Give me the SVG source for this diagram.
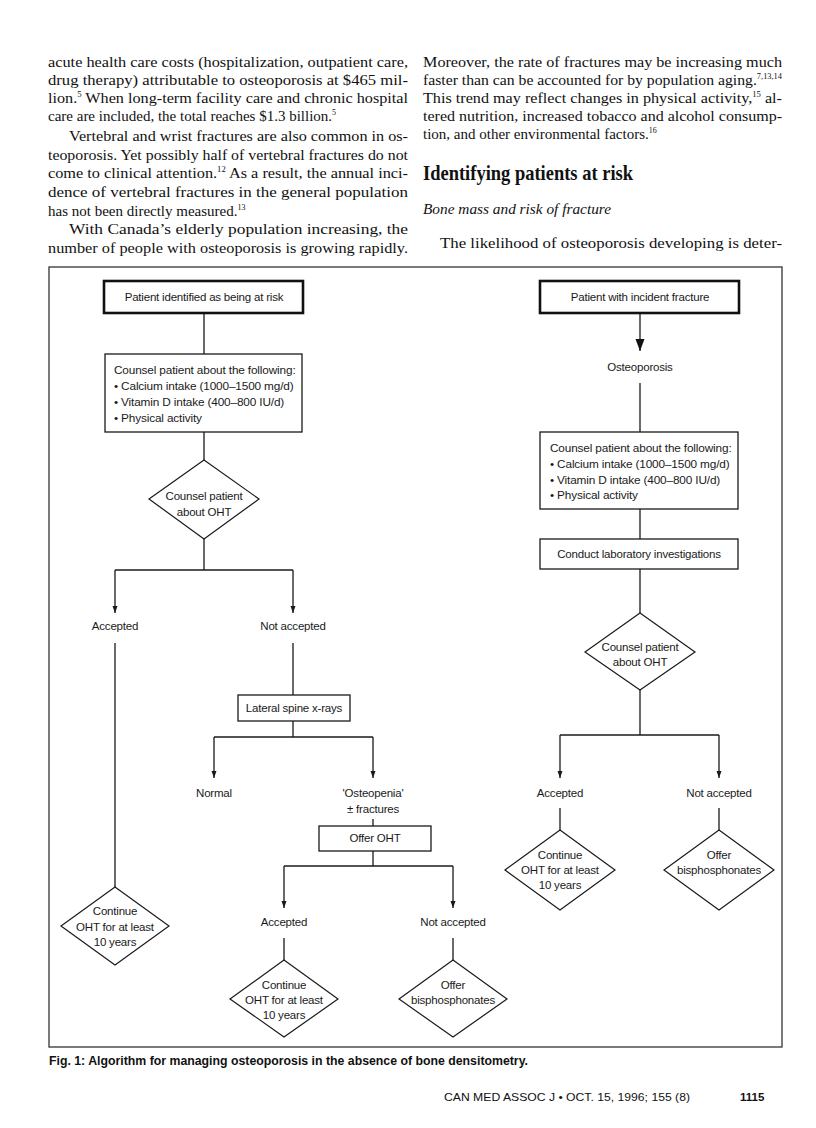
<svg xmlns="http://www.w3.org/2000/svg" width="816" height="1128" viewBox="0 0 816 1128">
<defs>
<style>
.body{font-family:"Liberation Serif",serif;font-size:15px;fill:#111}
.sup{font-size:8px}
.t{font-family:"Liberation Sans",Arial,sans-serif;font-size:11.5px;fill:#1a1a1a;text-anchor:middle;letter-spacing:-0.2px}
.tl{font-family:"Liberation Sans",Arial,sans-serif;font-size:11.8px;fill:#1a1a1a;letter-spacing:-0.15px}
.box{fill:#fff;stroke:#1a1a1a;stroke-width:1.3}
.tbox{fill:#fff;stroke:#111;stroke-width:2.6}
.dia{fill:#fff;stroke:#1a1a1a;stroke-width:1.2}
.c{fill:none;stroke:#1a1a1a;stroke-width:1.3}
.ca{fill:none;stroke:#1a1a1a;stroke-width:1.3;marker-end:url(#arr)}
</style>
<marker id="arr" markerUnits="userSpaceOnUse" markerWidth="8" markerHeight="6" refX="7" refY="3" orient="auto"><path d="M0,0.5 L7,3 L0,5.5 z" fill="#1a1a1a"/></marker>
<marker id="arrBig" markerUnits="userSpaceOnUse" markerWidth="13" markerHeight="10" refX="12" refY="5" orient="auto"><path d="M0,0.5 L12,5 L0,9.5 z" fill="#111"/></marker>
</defs>
<rect width="816" height="1128" fill="#fff"/>

<g id="page-text">
<text class="body" x="48" y="67" textLength="360" lengthAdjust="spacingAndGlyphs">acute health care costs (hospitalization, outpatient care,</text>
<text class="body" x="48" y="85" textLength="360" lengthAdjust="spacingAndGlyphs">drug therapy) attributable to osteoporosis at $465 mil-</text>
<text class="body" x="48" y="103" textLength="360" lengthAdjust="spacingAndGlyphs">lion.<tspan class="sup" dy="-6">5</tspan><tspan dy="6"> When long-term facility care and chronic hospital</tspan></text>
<text class="body" x="48" y="121">care are included, the total reaches $1.3 billion.<tspan class="sup" dy="-6">5</tspan></text>
<text class="body" x="69" y="141" textLength="339" lengthAdjust="spacingAndGlyphs">Vertebral and wrist fractures are also common in os-</text>
<text class="body" x="48" y="160" textLength="360" lengthAdjust="spacingAndGlyphs">teoporosis. Yet possibly half of vertebral fractures do not</text>
<text class="body" x="48" y="178" textLength="360" lengthAdjust="spacingAndGlyphs">come to clinical attention.<tspan class="sup" dy="-6">12</tspan><tspan dy="6"> As a result, the annual inci-</tspan></text>
<text class="body" x="48" y="197" textLength="360" lengthAdjust="spacingAndGlyphs">dence of vertebral fractures in the general population</text>
<text class="body" x="48" y="216">has not been directly measured.<tspan class="sup" dy="-6">13</tspan></text>
<text class="body" x="69" y="234" textLength="339" lengthAdjust="spacingAndGlyphs">With Canada’s elderly population increasing, the</text>
<text class="body" x="48" y="253" textLength="360" lengthAdjust="spacingAndGlyphs">number of people with osteoporosis is growing rapidly.</text>

<text class="body" x="423" y="67" textLength="359" lengthAdjust="spacingAndGlyphs">Moreover, the rate of fractures may be increasing much</text>
<text class="body" x="423" y="85" textLength="359" lengthAdjust="spacingAndGlyphs">faster than can be accounted for by population aging.<tspan class="sup" dy="-6">7,13,14</tspan></text>
<text class="body" x="423" y="103" textLength="359" lengthAdjust="spacingAndGlyphs">This trend may reflect changes in physical activity,<tspan class="sup" dy="-6">15</tspan><tspan dy="6"> al-</tspan></text>
<text class="body" x="423" y="121" textLength="359" lengthAdjust="spacingAndGlyphs">tered nutrition, increased tobacco and alcohol consump-</text>
<text class="body" x="423" y="139">tion, and other environmental factors.<tspan class="sup" dy="-6">16</tspan></text>
<text x="423" y="180" font-family="Liberation Serif, serif" font-weight="bold" font-size="21" fill="#111" textLength="210" lengthAdjust="spacingAndGlyphs">Identifying patients at risk</text>
<text x="423" y="214" font-family="Liberation Serif, serif" font-style="italic" font-size="15.5" fill="#111" textLength="188" lengthAdjust="spacingAndGlyphs">Bone mass and risk of fracture</text>
<text class="body" x="440" y="248" textLength="342" lengthAdjust="spacingAndGlyphs">The likelihood of osteoporosis developing is deter-</text>
</g>

<g id="frame"><rect x="49" y="267" width="733" height="780" fill="none" stroke="#333" stroke-width="1.3"/></g>

<g id="connectors">
<line class="c" x1="204" y1="313" x2="204" y2="354"/>
<line class="c" x1="204" y1="432" x2="204" y2="460"/>
<line class="c" x1="204" y1="539" x2="204" y2="570"/>
<line class="c" x1="115" y1="570" x2="293" y2="570"/>
<line class="ca" x1="115" y1="570" x2="115" y2="613"/>
<line class="ca" x1="293" y1="570" x2="293" y2="613"/>
<line class="c" x1="115" y1="643" x2="115" y2="887"/>
<line class="c" x1="293" y1="643" x2="293" y2="695"/>
<line class="c" x1="293" y1="721" x2="293" y2="737"/>
<line class="c" x1="214" y1="737" x2="373" y2="737"/>
<line class="ca" x1="214" y1="737" x2="214" y2="778"/>
<line class="ca" x1="373" y1="737" x2="373" y2="778"/>
<line class="c" x1="373" y1="819" x2="373" y2="826"/>
<line class="c" x1="373" y1="851" x2="373" y2="866"/>
<line class="c" x1="284" y1="866" x2="453" y2="866"/>
<line class="ca" x1="284" y1="866" x2="284" y2="908"/>
<line class="ca" x1="453" y1="866" x2="453" y2="908"/>
<line class="c" x1="284" y1="938" x2="284" y2="960"/>
<line class="c" x1="453" y1="938" x2="453" y2="960"/>
<line class="c" x1="640" y1="313" x2="640" y2="351" style="marker-end:url(#arrBig)"/>
<line class="c" x1="640" y1="383" x2="640" y2="432"/>
<line class="c" x1="640" y1="509" x2="640" y2="539"/>
<line class="c" x1="640" y1="569" x2="640" y2="613"/>
<line class="c" x1="640" y1="690" x2="640" y2="735"/>
<line class="c" x1="560" y1="735" x2="719" y2="735"/>
<line class="ca" x1="560" y1="735" x2="560" y2="778"/>
<line class="ca" x1="719" y1="735" x2="719" y2="778"/>
<line class="c" x1="560" y1="808" x2="560" y2="830"/>
<line class="c" x1="719" y1="808" x2="719" y2="830"/>
</g>

<g id="n-risk"><rect class="tbox" x="104" y="281" width="199" height="32"/><text class="t" x="204" y="301">Patient identified as being at risk</text></g>
<g id="n-counsel-left"><rect class="box" x="105" y="354" width="197" height="78"/>
<text class="tl" x="114" y="374">Counsel patient about the following:</text>
<text class="tl" x="114" y="390">• Calcium intake (1000–1500 mg/d)</text>
<text class="tl" x="114" y="406">• Vitamin D intake (400–800 IU/d)</text>
<text class="tl" x="114" y="422">• Physical activity</text></g>
<g id="n-oht-left"><polygon class="dia" points="204,460 259,499 204,539 149,499"/><text class="t" x="204" y="500">Counsel patient</text><text class="t" x="204" y="516">about OHT</text></g>
<g id="n-accepted-1"><text class="t" x="115" y="630">Accepted</text></g>
<g id="n-notacc-1"><text class="t" x="293" y="630">Not accepted</text></g>
<g id="n-continue-1"><polygon class="dia" points="115,887 169,926 115,965 61,926"/><text class="t" x="115" y="915">Continue</text><text class="t" x="115" y="931">OHT for at least</text><text class="t" x="115" y="946">10 years</text></g>
<g id="n-xray"><rect class="box" x="238" y="695" width="112" height="26"/><text class="t" x="294" y="712">Lateral spine x-rays</text></g>
<g id="n-normal"><text class="t" x="214" y="797">Normal</text></g>
<g id="n-osteopenia"><text class="t" x="373" y="797">'Osteopenia'</text><text class="t" x="373" y="813">± fractures</text></g>
<g id="n-offer-oht"><rect class="box" x="319" y="826" width="112" height="25"/><text class="t" x="375" y="842">Offer OHT</text></g>
<g id="n-accepted-2"><text class="t" x="284" y="926">Accepted</text></g>
<g id="n-notacc-2"><text class="t" x="453" y="926">Not accepted</text></g>
<g id="n-continue-2"><polygon class="dia" points="284,960 338,999 284,1037 230,999"/><text class="t" x="284" y="989">Continue</text><text class="t" x="284" y="1004">OHT for at least</text><text class="t" x="284" y="1019">10 years</text></g>
<g id="n-bisph-2"><polygon class="dia" points="453,960 507,999 453,1037 399,999"/><text class="t" x="453" y="989">Offer</text><text class="t" x="453" y="1004">bisphosphonates</text></g>

<g id="n-fracture"><rect class="tbox" x="540" y="281" width="199" height="32"/><text class="t" x="640" y="301">Patient with incident fracture</text></g>
<g id="n-osteoporosis"><text class="t" x="640" y="371">Osteoporosis</text></g>
<g id="n-counsel-right"><rect class="box" x="540" y="432" width="198" height="77"/>
<text class="tl" x="550" y="452">Counsel patient about the following:</text>
<text class="tl" x="550" y="468">• Calcium intake (1000–1500 mg/d)</text>
<text class="tl" x="550" y="484">• Vitamin D intake (400–800 IU/d)</text>
<text class="tl" x="550" y="499">• Physical activity</text></g>
<g id="n-lab"><rect class="box" x="540" y="539" width="198" height="30"/><text class="t" x="639" y="558">Conduct laboratory investigations</text></g>
<g id="n-oht-right"><polygon class="dia" points="640,613 695,652 640,690 585,652"/><text class="t" x="640" y="651">Counsel patient</text><text class="t" x="640" y="666">about OHT</text></g>
<g id="n-accepted-3"><text class="t" x="560" y="797">Accepted</text></g>
<g id="n-notacc-3"><text class="t" x="719" y="797">Not accepted</text></g>
<g id="n-continue-3"><polygon class="dia" points="560,830 615,870 560,910 505,870"/><text class="t" x="560" y="859">Continue</text><text class="t" x="560" y="874">OHT for at least</text><text class="t" x="560" y="889">10 years</text></g>
<g id="n-bisph-3"><polygon class="dia" points="719,830 774,870 719,910 664,870"/><text class="t" x="719" y="859">Offer</text><text class="t" x="719" y="874">bisphosphonates</text></g>

<g id="caption">
<text x="49" y="1065" font-family="Liberation Sans, Arial, sans-serif" font-weight="bold" font-size="12" fill="#111" textLength="479" lengthAdjust="spacingAndGlyphs">Fig. 1: Algorithm for managing osteoporosis in the absence of bone densitometry.</text>
<text x="444" y="1101" font-family="Liberation Sans, Arial, sans-serif" font-size="11.5" fill="#111" textLength="246" lengthAdjust="spacingAndGlyphs">CAN MED ASSOC J • OCT. 15, 1996; 155 (8)</text>
<text x="740" y="1101" font-family="Liberation Sans, Arial, sans-serif" font-weight="bold" font-size="11.5" fill="#111">1115</text>
</g>
</svg>
